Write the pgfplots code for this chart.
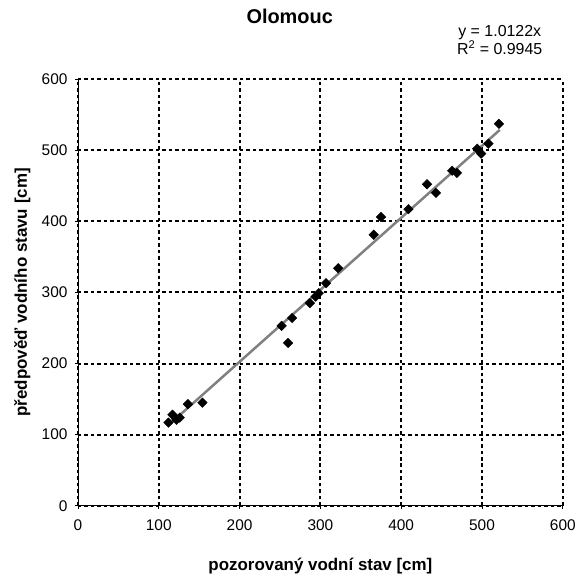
\documentclass[border=0pt]{standalone}
\usepackage{pgfplots}
\pgfplotsset{compat=1.18}
\usepackage{fontspec}
\setmainfont{Liberation Sans}
\begin{document}
\begin{tikzpicture}
\begin{axis}[
    scale only axis,
    width=485bp, height=427bp,
    xmin=0, xmax=600, ymin=0, ymax=600,
    xtick={0,100,...,600}, ytick={0,100,...,600},
    axis lines=left,
    axis line style={-, black, line width=0.9pt},
    tick align=center,
    major tick length=6bp,
    tick style={black, line width=0.8pt},
    grid=major,
    major grid style={black, line width=2pt, dash pattern=on 3.5pt off 3pt},
    ticklabel style={font=\fontsize{15.5}{18}\selectfont},
    /pgf/number format/assume math mode=true,
    xticklabel style={yshift=-7bp},
    yticklabel style={xshift=-4bp},
    xlabel={\textbf{pozorovaný vodní stav [cm]}},
    ylabel={\textbf{předpověď vodního stavu [cm]}},
    label style={font=\fontsize{17}{20}\selectfont},
    xlabel style={at={(axis description cs:0.5,-0.1522)}, anchor=base},
    ylabel style={at={(axis description cs:-0.1052,0.5)}, anchor=base},
    clip=false,
]
\addplot[color={rgb,255:red,128;green,128;blue,128}, line width=2.5pt, forget plot]
  coordinates {(113,114.4) (522,528.4)};
\addplot[only marks, mark=square*, mark size=3.4pt, mark options={rotate=45}, black] coordinates {
(112,117) (117,128) (122,121) (126,124) (136,143) (154,145)
(252,253) (260,229) (265,264) (287,285) (294,294) (298,299) (307,313) (322,334)
(366,381) (375,406) (409,417) (432,452) (443,440) (463,471) (469,468)
(494,502) (499,495) (508,509) (521,537)
};
\node[font=\fontsize{20}{24}\selectfont\bfseries] at (axis cs:262,688.5) {Olomouc};
\node[font=\fontsize{16}{18.5}\selectfont, align=center] at (axis cs:522,655)
  {y = 1.0122x\\R\textsuperscript{2} = 0.9945};
\end{axis}
\path (current axis.south west) ++(-78bp,-72bp) rectangle ++(579bp,578bp);
\end{tikzpicture}
\end{document}
